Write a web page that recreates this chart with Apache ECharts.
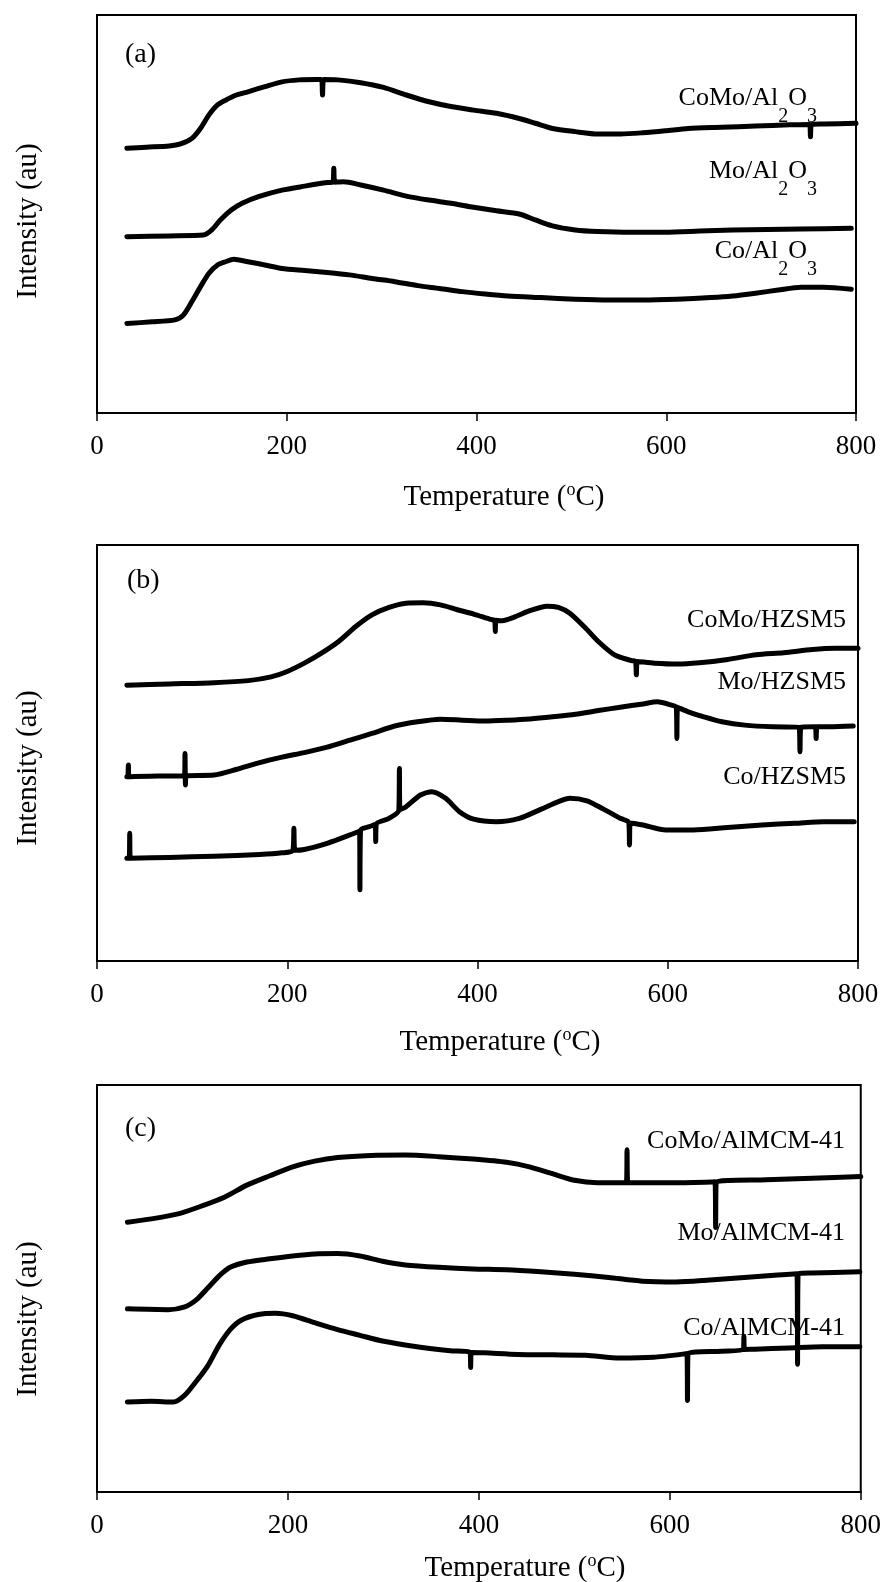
<!DOCTYPE html>
<html><head><meta charset="utf-8">
<script src="https://cdn.jsdelivr.net/npm/echarts@6/dist/echarts.min.js"></script>
<style>html,body{margin:0;padding:0;background:#fff}#c{width:884px;height:1582px}</style>
</head><body><div id="c"></div><script>
// ---- data: [temperature (°C), intensity (a.u., 0-100 of panel height)] ----
const coMoAl2O3 = [[31.5,66.5],[52,66.8],[76,67.1],[88,67.6],[100,69.0],[109,71.5],[118,74.9],[127,77.4],[135.5,78.6],[147,79.9],[159,80.7],[177,82.0],[195,83.2],[213,83.7],[231,83.8],[236.5,83.8],[237.7,79.9],[239,83.8],[254,83.7],[278,83.0],[302,81.8],[326,79.9],[350,78.2],[373,77.0],[397,76.1],[421,75.3],[445,74.0],[462,72.8],[480,71.5],[504,70.7],[528,70.1],[552,70.1],[575,70.4],[599,70.9],[623,71.5],[658,71.8],[694,72.1],[730,72.4],[751,72.5],[752,69.4],[753,72.5],[766,72.6],[800,72.8]];
const moAl2O3 = [[31.5,44.3],[76,44.5],[112,44.7],[121,46.0],[130,48.5],[141.5,51.0],[153,52.7],[171,54.4],[195,56.0],[219,57.0],[242.5,57.9],[248.5,58.0],[249.6,61.5],[250.7,58.0],[260,58.1],[278,57.3],[302,56.0],[326,54.5],[350,53.5],[373,52.7],[397,51.7],[421,50.8],[445,50.0],[462,48.5],[480,47.0],[504,46.0],[528,45.6],[563,45.4],[599,45.4],[635,45.7],[670,46.0],[706,46.1],[742,46.2],[795,46.4]];
const coAl2O3 = [[31.5,22.5],[58,22.9],[82,23.4],[91,24.6],[100,28.0],[109,31.7],[118,35.1],[127,37.2],[135.5,38.0],[144,38.6],[159,38.0],[177,37.2],[195,36.3],[219,35.8],[242.5,35.3],[266,34.7],[290,33.8],[314,33.0],[338,32.0],[361,31.3],[385,30.5],[409,29.9],[433,29.4],[468,29.0],[504,28.6],[540,28.4],[575,28.4],[611,28.6],[647,29.0],[670,29.4],[694,30.1],[718,30.9],[742,31.6],[766,31.6],[795,31.1]];

const coMoHZSM5 = [[31.4,66.3],[76,66.6],[123,66.9],[159,67.4],[183,68.3],[200,69.6],[218,71.6],[236,74.0],[254,76.8],[272,80.4],[289,83.2],[307,85.0],[325,86.0],[343,86.1],[361,85.6],[378,84.5],[396,83.4],[414,82.1],[418,81.9],[418.7,79.2],[419.5,81.9],[426,81.8],[438,82.6],[455,84.2],[473,85.3],[485,85.0],[497,83.6],[512,80.4],[527,76.8],[544,73.6],[562,72.2],[566,72.0],[567,68.8],[568,72.0],[586,71.6],[610,71.4],[633,71.7],[663,72.5],[693,73.6],[722,74.1],[752,74.9],[776,75.2],[800,75.2]];
const moHZSM5 = [[31.4,44.3],[32.4,44.3],[33,47.1],[33.6,44.3],[64,44.5],[92,44.5],[92.5,49.9],[93,42.3],[93.6,44.5],[123,44.7],[147,46.1],[171,47.7],[194.5,49.0],[218,50.1],[242,51.4],[266,53.1],[289,54.7],[313,56.5],[337,57.5],[361,58.1],[384,57.9],[408,57.7],[432,57.9],[455,58.2],[479,58.7],[503,59.3],[527,60.2],[550,61.0],[574,61.8],[589,62.3],[604,61.5],[609,61.0],[609.6,53.5],[610.3,61.0],[621.5,59.9],[639,58.6],[657,57.5],[681,56.7],[710,56.3],[738,56.2],[739,50.3],[740,56.2],[755,56.3],[756,53.5],[757,56.3],[770,56.3],[795,56.5]];
const coHZSM5 = [[31.4,24.7],[33.8,24.7],[34.4,30.7],[35,24.7],[76,24.9],[123,25.2],[171,25.6],[194.5,26.0],[206,26.6],[207,31.9],[208,26.6],[218,26.8],[242,28.3],[266,30.3],[276,31.2],[276.4,17.1],[277,31.3],[289,32.5],[292.5,32.8],[293,28.7],[293.5,32.9],[307,34.3],[317.3,36.2],[317.9,46.3],[318.5,36.4],[325,37.1],[340,39.9],[352,40.7],[366.5,39.1],[381,35.9],[396,34.1],[420,33.5],[444,34.3],[467,36.5],[485,38.3],[497,39.1],[515,38.5],[532.5,36.5],[550,34.3],[559,33.3],[559.8,27.9],[560.5,33.2],[574,32.7],[598,31.5],[627,31.5],[663,32.1],[699,32.7],[734,33.1],[764,33.5],[796,33.5]];

const coMoAlMCM41 = [[31.9,66.3],[57,67.1],[86,68.4],[110,70.3],[134,72.5],[157,75.4],[181,77.7],[205,79.9],[228,81.3],[252,82.2],[287,82.7],[323,82.8],[358,82.4],[394,81.8],[429,81.0],[453,79.9],[477,78.2],[500,76.6],[524,76.0],[554.5,76.0],[555.2,84.1],[556,76.0],[607,76.0],[647.3,76.2],[648,65.0],[648.7,76.2],[701,76.7],[749,77.1],[800,77.5]];
const moAlMCM41 = [[31.9,45.0],[74.5,44.8],[92,45.5],[104,47.2],[116,50.1],[128,53.1],[139.5,55.2],[157,56.5],[181,57.3],[205,58.0],[228,58.5],[252,58.6],[275.5,58.0],[299,56.7],[323,55.8],[358,55.2],[394,54.8],[429,54.6],[465,54.1],[500,53.5],[536,52.7],[571,51.8],[607,51.6],[642,52.1],[678,52.7],[713,53.3],[733.2,53.6],[733.8,31.4],[734.4,53.6],[749,53.8],[799,54.1]];
const coAlMCM41 = [[31.9,22.1],[57,22.3],[80,22.1],[92,23.8],[104,27.2],[116,31.0],[128,36.1],[139.5,39.9],[151,42.2],[169,43.6],[187,43.9],[205,43.3],[228,41.6],[252,39.9],[275.5,38.5],[299,37.1],[335,35.7],[370,34.7],[390.8,34.3],[391.4,30.6],[392,34.3],[406,34.2],[441,33.8],[477,33.7],[512,33.6],[547.5,32.9],[583,33.1],[617.9,34.0],[618.5,22.5],[619.1,34.0],[654,34.6],[677,35.0],[677.6,38.2],[678.2,35.0],[689,35.1],[725,35.4],[760,35.7],[799,35.7]];

const xTicks = [0, 200, 400, 600, 800];
const panelLetters = ['(a)', '(b)', '(c)'];
const seriesNames = [
  ['{m|CoMo/Al}{s|2}{m|O}{s|3}', '{m|Mo/Al}{s|2}{m|O}{s|3}', '{m|Co/Al}{s|2}{m|O}{s|3}'],
  ['{m|CoMo/HZSM5}', '{m|Mo/HZSM5}', '{m|Co/HZSM5}'],
  ['{m|CoMo/AlMCM-41}', '{m|Mo/AlMCM-41}', '{m|Co/AlMCM-41}']
];
const panelData = [
  [coMoAl2O3, moAl2O3, coAl2O3],
  [coMoHZSM5, moHZSM5, coHZSM5],
  [coMoAlMCM41, moAlMCM41, coAlMCM41]
];
const xTitle = '{m|Temperature (}{u|o}{m|C)}';
const yTitle = 'Intensity (au)';

// ---- layout & style ----
const F = "'Liberation Serif','Times New Roman',serif";
const grids = [
  {left:97, top:15, width:759, height:398},
  {left:97, top:545, width:761, height:416},
  {left:97, top:1085, width:764, height:407}
];
const labelPos = [
  {x:817, ys:[98,171,251]},
  {x:846, ys:[620,682,777]},
  {x:845, ys:[1141,1233,1328]}
];
const letterPos = [[125,55],[127,581],[125,1129]];
const xTitlePos = [[504,497],[500,1042],[525,1568]];
const yTitlePos = [[28.5,221],[28.5,768],[28.5,1319]];

const richLbl = {
  m:{fontSize:26, fontFamily:F, fill:'#000', color:'#000'},
  s:{fontSize:20, fontFamily:F, fill:'#000', color:'#000', padding:[38,0,0,0]}
};
const richTitle = {
  m:{fontSize:29, fontFamily:F, fill:'#000', color:'#000'},
  u:{fontSize:18, fontFamily:F, fill:'#000', color:'#000', padding:[0,0,14,0]}
};

const xAxis = [], yAxis = [], series = [], graphic = [];
grids.forEach((g, i) => {
  g.show = true; g.borderColor = '#000'; g.borderWidth = 2; g.backgroundColor = 'transparent';
  xAxis.push({type:'value', gridIndex:i, min:xTicks[0], max:xTicks[xTicks.length-1], interval:xTicks[1]-xTicks[0],
    axisLine:{show:true, lineStyle:{color:'#000', width:2}},
    axisTick:{show:true, inside:false, length:8, lineStyle:{color:'#000', width:1.5}},
    axisLabel:{color:'#000', fontFamily:F, fontSize:27, margin:20},
    splitLine:{show:false}});
  yAxis.push({type:'value', gridIndex:i, min:0, max:100,
    axisLine:{show:true, lineStyle:{color:'#000', width:2}},
    axisTick:{show:false}, axisLabel:{show:false}, splitLine:{show:false}});
  panelData[i].forEach((d) => {
    series.push({type:'line', xAxisIndex:i, yAxisIndex:i, data:d, showSymbol:false, symbol:'none',
      smooth:0.25,
      lineStyle:{color:'#000', width:5, join:'round', cap:'round'}, silent:true, animation:false});
  });
  seriesNames[i].forEach((t, k) => {
    graphic.push({type:'text', x:labelPos[i].x, y:labelPos[i].ys[k], silent:true,
      style:{text:t, align:'right', verticalAlign:'middle', rich:richLbl, fill:'#000', fontSize:26, fontFamily:F}});
  });
  graphic.push({type:'text', x:letterPos[i][0], y:letterPos[i][1], silent:true,
    style:{text:panelLetters[i], align:'left', verticalAlign:'middle', fontSize:28, fontFamily:F, fill:'#000'}});
  graphic.push({type:'text', x:xTitlePos[i][0], y:xTitlePos[i][1], silent:true,
    style:{text:xTitle, align:'center', verticalAlign:'middle', rich:richTitle, fill:'#000', fontSize:29, fontFamily:F}});
  graphic.push({type:'text', x:yTitlePos[i][0], y:yTitlePos[i][1], rotation:Math.PI/2, silent:true,
    style:{text:yTitle, align:'center', verticalAlign:'middle', fontSize:29, fontFamily:F, fill:'#000'}});
});

const chart = echarts.init(document.getElementById('c'), null, {renderer:'canvas'});
chart.setOption({backgroundColor:'#fff', animation:false, grid:grids, xAxis, yAxis, series, graphic});
</script></body></html>
